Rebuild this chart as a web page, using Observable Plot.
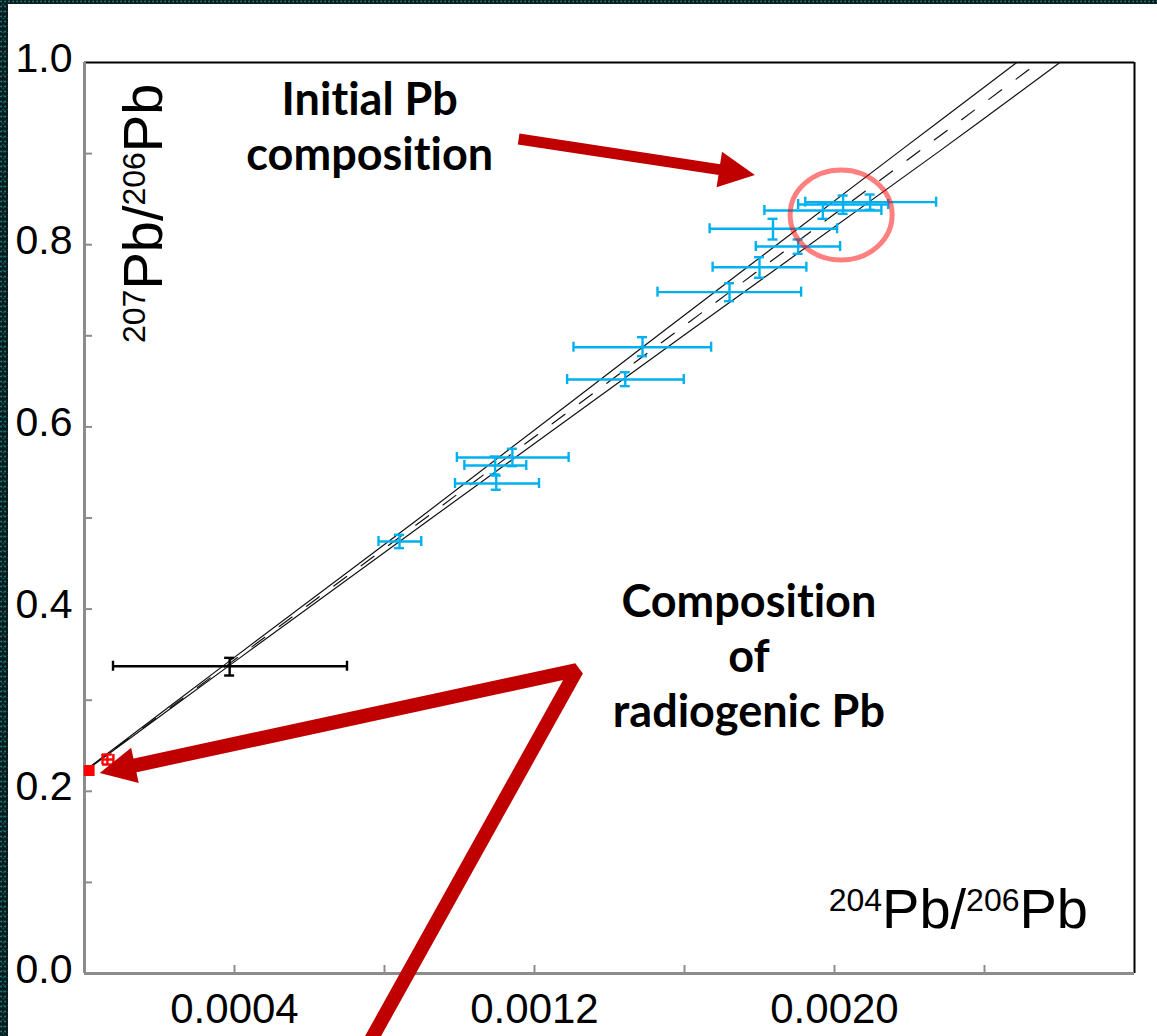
<!DOCTYPE html>
<html>
<head>
<meta charset="utf-8">
<script src="https://cdn.jsdelivr.net/npm/d3@7"></script>
<script src="https://cdn.jsdelivr.net/npm/@observablehq/plot@0.6"></script>
<style>
  html, body { margin: 0; padding: 0; background: #081d1f; }
  #wrap { position: relative; width: 1157px; height: 1036px; overflow: hidden; }
  #chart svg { display: block; }
  .edge {
    position: absolute;
    background-color: #071a1c;
    background-image:
      radial-gradient(circle at 30% 30%, rgba(40,150,150,0.7) 0 0.8px, transparent 1.3px),
      radial-gradient(circle at 70% 65%, rgba(20,110,115,0.6) 0 0.8px, transparent 1.4px);
    background-size: 4px 5px, 5px 7px;
  }
</style>
</head>
<body>
<div id="wrap">
  <div id="chart"></div>
  <div class="edge" style="left:0;top:0;width:8px;height:1036px"></div>
  <div class="edge" style="left:0;top:0;width:1157px;height:4px"></div>
</div>
<script>
// Pb isotope analyses: 204Pb/206Pb (x) vs 207Pb/206Pb (y), with error ranges
const ratio204   = [0.001720, 0.001800, 0.001903, 0.001836, 0.001969, 0.002023, 0.002095, 0.001488, 0.001442, 0.001141, 0.001095, 0.001098, 0.000840, 0.000387, 0.000061];
const ratio204Lo = [0.001528, 0.001675, 0.001790, 0.001667, 0.001813, 0.001903, 0.001922, 0.001304, 0.001287, 0.000993, 0.001013, 0.000988, 0.000784, 0.000076, 0.000048];
const ratio204Hi = [0.001911, 0.001925, 0.002015, 0.002007, 0.002125, 0.002143, 0.002271, 0.001671, 0.001598, 0.001291, 0.001178, 0.001212, 0.000898, 0.000700, 0.000077];
const ratio207   = [0.7479, 0.7753, 0.7980, 0.8175, 0.8375, 0.8441, 0.8467, 0.6875, 0.6520, 0.5664, 0.5576, 0.5379, 0.4742, 0.3373, 0.2349];
const ratio207Lo = [0.7380, 0.7637, 0.7900, 0.8057, 0.8284, 0.8339, 0.8383, 0.6776, 0.6447, 0.5569, 0.5478, 0.5310, 0.4669, 0.3271, 0.2294];
const ratio207Hi = [0.7577, 0.7863, 0.8057, 0.8284, 0.8460, 0.8540, 0.8551, 0.6985, 0.6600, 0.5760, 0.5675, 0.5466, 0.4816, 0.3465, 0.2404];
const pointGroup = ["sample","sample","sample","sample","sample","sample","sample","sample","sample","sample","sample","sample","sample","reference","radiogenic"];
const groupNames  = ["sample", "reference", "radiogenic"];
const groupColors = ["#00b0f0", "#000000", "#ff0000"];

// Radiogenic end-member
const radiogenicX = [0.0000125];
const radiogenicY = [0.2228];

// Isochron fit and its error envelope
const fitX = [0.0000099, 0.002544];
const fitY = [0.225, 1.0];
const envY       = [0.225, 0.344, 0.497, 0.706, 0.903, 1.0];
const envUpperX  = [0.0000085, 0.000390, 0.000884, 0.001547, 0.002175, 0.002486];
const envLowerX  = [0.0000112, 0.000406, 0.000916, 0.001617, 0.002281, 0.002601];

// Axis ticks
const xTicks = [0.0004, 0.0008, 0.0012, 0.0016, 0.0020, 0.0024];
const xTickLabels = [0.0004, 0.0012, 0.0020];
const yTicks = [0.1, 0.2, 0.3, 0.4, 0.5, 0.6, 0.7, 0.8, 0.9];
const yTickLabels = [0.0, 0.2, 0.4, 0.6, 0.8, 1.0];

// Annotations (data coordinates)
const noteLines1 = ["Initial Pb", "composition"];
const noteAnchor1 = [0.000762, 0.9257];
const noteLines2 = ["Composition", "of", "radiogenic Pb"];
const noteAnchor2 = [0.001773, 0.3445];
const ringCenter = [0.002019, 0.832];
const arrow1Tail = [0.001159, 0.9155];
const arrow1Tip  = [0.001789, 0.876];
const arrow2Corner = [0.001314, 0.3326];
const arrow2Tip    = [0.000042, 0.2195];
const arrow2Foot   = [0.000765, -0.0735];

const pts = ratio204.map((x, i) => ({
  x, xLo: ratio204Lo[i], xHi: ratio204Hi[i],
  y: ratio207[i], yLo: ratio207Lo[i], yHi: ratio207Hi[i],
  group: pointGroup[i]
}));
const upperEnv = envY.map((y, i) => ({x: envUpperX[i], y}));
const lowerEnv = envY.map((y, i) => ({x: envLowerX[i], y}));
const fitLine = fitX.map((x, i) => ({x, y: fitY[i]}));
const endMember = radiogenicX.map((x, i) => ({x, y: radiogenicY[i]}));

const axisGrey = "#8c8c8c";
const sw = 2.4;

const plot = Plot.plot({
  width: 1157,
  height: 1036,
  marginLeft: 84,
  marginRight: 23,
  marginTop: 62,
  marginBottom: 63,
  x: {domain: [0, 0.0028], label: null},
  y: {domain: [0, 1], label: null},
  color: {domain: groupNames, range: groupColors},
  style: {background: "#ffffff", fontFamily: "'Liberation Sans', Arial, sans-serif", color: "#000", overflow: "visible"},
  marks: [
    // frame
    Plot.ruleY([1], {stroke: "#000", strokeWidth: 2}),
    Plot.ruleX([0.0028], {stroke: "#000", strokeWidth: 2}),
    Plot.ruleX([0], {stroke: axisGrey, strokeWidth: 3}),
    Plot.ruleY([0], {stroke: axisGrey, strokeWidth: 3}),
    // inward tick marks
    Plot.axisX(xTicks, {tickSize: -8, stroke: axisGrey, strokeWidth: 2, tickFormat: () => "", label: null}),
    Plot.axisY(yTicks, {tickSize: -8, stroke: axisGrey, strokeWidth: 2, tickFormat: () => "", label: null}),
    // tick labels
    Plot.axisX(xTickLabels, {tickSize: 0, tickPadding: 20, fontSize: 42, fill: "#000", tickFormat: d3.format(".4f"), label: null}),
    Plot.axisY(yTickLabels, {tickSize: 0, tickPadding: 12, fontSize: 41, fill: "#000", dy: -4, tickFormat: d3.format(".1f"), label: null}),
    // isochron with error envelope
    Plot.line(upperEnv, {x: "x", y: "y", stroke: "#111", strokeWidth: 1.2, curve: "catmull-rom"}),
    Plot.line(lowerEnv, {x: "x", y: "y", stroke: "#111", strokeWidth: 1.2, curve: "catmull-rom"}),
    Plot.line(fitLine, {x: "x", y: "y", stroke: "#111", strokeWidth: 1.2, strokeDasharray: "16,18"}),
    // error bars
    Plot.ruleY(pts, {y: "y", x1: "xLo", x2: "xHi", stroke: "group", strokeWidth: sw}),
    Plot.ruleX(pts, {x: "x", y1: "yLo", y2: "yHi", stroke: "group", strokeWidth: sw}),
    Plot.ruleX(pts, {x: "xLo", y1: "y", y2: "y", insetTop: -5, insetBottom: -5, stroke: "group", strokeWidth: sw}),
    Plot.ruleX(pts, {x: "xHi", y1: "y", y2: "y", insetTop: -5, insetBottom: -5, stroke: "group", strokeWidth: sw}),
    Plot.ruleY(pts, {y: "yLo", x1: "x", x2: "x", insetLeft: -5, insetRight: -5, stroke: "group", strokeWidth: sw}),
    Plot.ruleY(pts, {y: "yHi", x1: "x", x2: "x", insetLeft: -5, insetRight: -5, stroke: "group", strokeWidth: sw}),
    Plot.dot(endMember, {x: "x", y: "y", r: 5, symbol: "square", fill: "#ff0000", stroke: "#ff0000", strokeWidth: 2})
  ]
});

document.getElementById("chart").append(plot);

// Overlays: axis titles, callouts, arrows
const svg = d3.select(plot);
const sx = plot.scale("x"), sy = plot.scale("y");
const px = (p) => [sx.apply(p[0]), sy.apply(p[1])];
const xLeft = sx.apply(0), xRight = sx.apply(0.0028);
const yTop = sy.apply(1), yBottom = sy.apply(0);

function pbRatio(sel, a, b) {
  sel.append("tspan").attr("font-size", 32).attr("dy", -17).text(a);
  sel.append("tspan").attr("dy", 17).text("Pb/");
  sel.append("tspan").attr("font-size", 32).attr("dy", -17).text(b);
  sel.append("tspan").attr("dy", 17).text("Pb");
}

const titleFont = "'Liberation Sans', Arial, sans-serif";
const xTitle = svg.append("text")
  .attr("x", xRight - 46).attr("y", yBottom - 45)
  .attr("text-anchor", "end").attr("font-family", titleFont).attr("font-size", 56).attr("fill", "#000");
pbRatio(xTitle, "204", "206");

const yTitle = svg.append("text")
  .attr("transform", `translate(${xLeft + 78},${yTop + 281}) rotate(-90)`)
  .attr("text-anchor", "start").attr("font-family", titleFont).attr("font-size", 56).attr("fill", "#000");
pbRatio(yTitle, "207", "206");

function note(lines, anchor) {
  const [x, y] = px(anchor);
  const t = svg.append("text")
    .attr("text-anchor", "middle")
    .attr("font-family", "Lato, 'Open Sans', sans-serif")
    .attr("font-weight", 700).attr("font-size", 45).attr("fill", "#000")
    .style("font-variant-ligatures", "none");
  const lh = 55;
  const first = y + 12.8 - (lines.length - 1) / 2 * lh;
  lines.forEach((s, i) => t.append("tspan").attr("x", x).attr("y", first + i * lh).text(s));
}
note(noteLines1, noteAnchor1);
note(noteLines2, noteAnchor2);

const arrowRed = "#c00000";
function head(tip, from, len, half) {
  const dx = tip[0] - from[0], dy = tip[1] - from[1];
  const d = Math.hypot(dx, dy), ux = dx / d, uy = dy / d;
  const bx = tip[0] - ux * len, by = tip[1] - uy * len;
  svg.append("path")
    .attr("d", `M${tip[0]},${tip[1]}L${bx - uy * half},${by + ux * half}L${bx + uy * half},${by - ux * half}Z`)
    .attr("fill", arrowRed);
  return [bx + ux * 2, by + uy * 2];
}

// upper arrow
{
  const a = px(arrow1Tail), b = px(arrow1Tip);
  const base = head(b, a, 36, 18);
  svg.append("path").attr("d", `M${a[0]},${a[1]}L${base[0]},${base[1]}`)
    .attr("stroke", arrowRed).attr("stroke-width", 11).attr("fill", "none");
}
// lower arrow with its long leg
{
  const c = px(arrow2Corner), t = px(arrow2Tip), f = px(arrow2Foot);
  const base = head(t, c, 36, 18);
  svg.append("path").attr("d", `M${f[0]},${f[1]}L${c[0]},${c[1]}L${base[0]},${base[1]}`)
    .attr("stroke", arrowRed).attr("stroke-width", 14).attr("stroke-linejoin", "bevel").attr("fill", "none");
}

// highlight ring around the initial-Pb cluster
{
  const [cx, cy] = px(ringCenter);
  svg.append("ellipse").attr("cx", cx).attr("cy", cy).attr("rx", 51).attr("ry", 45)
    .attr("fill", "none").attr("stroke", "#ff0000").attr("stroke-opacity", 0.5).attr("stroke-width", 5);
}
</script>
</body>
</html>
